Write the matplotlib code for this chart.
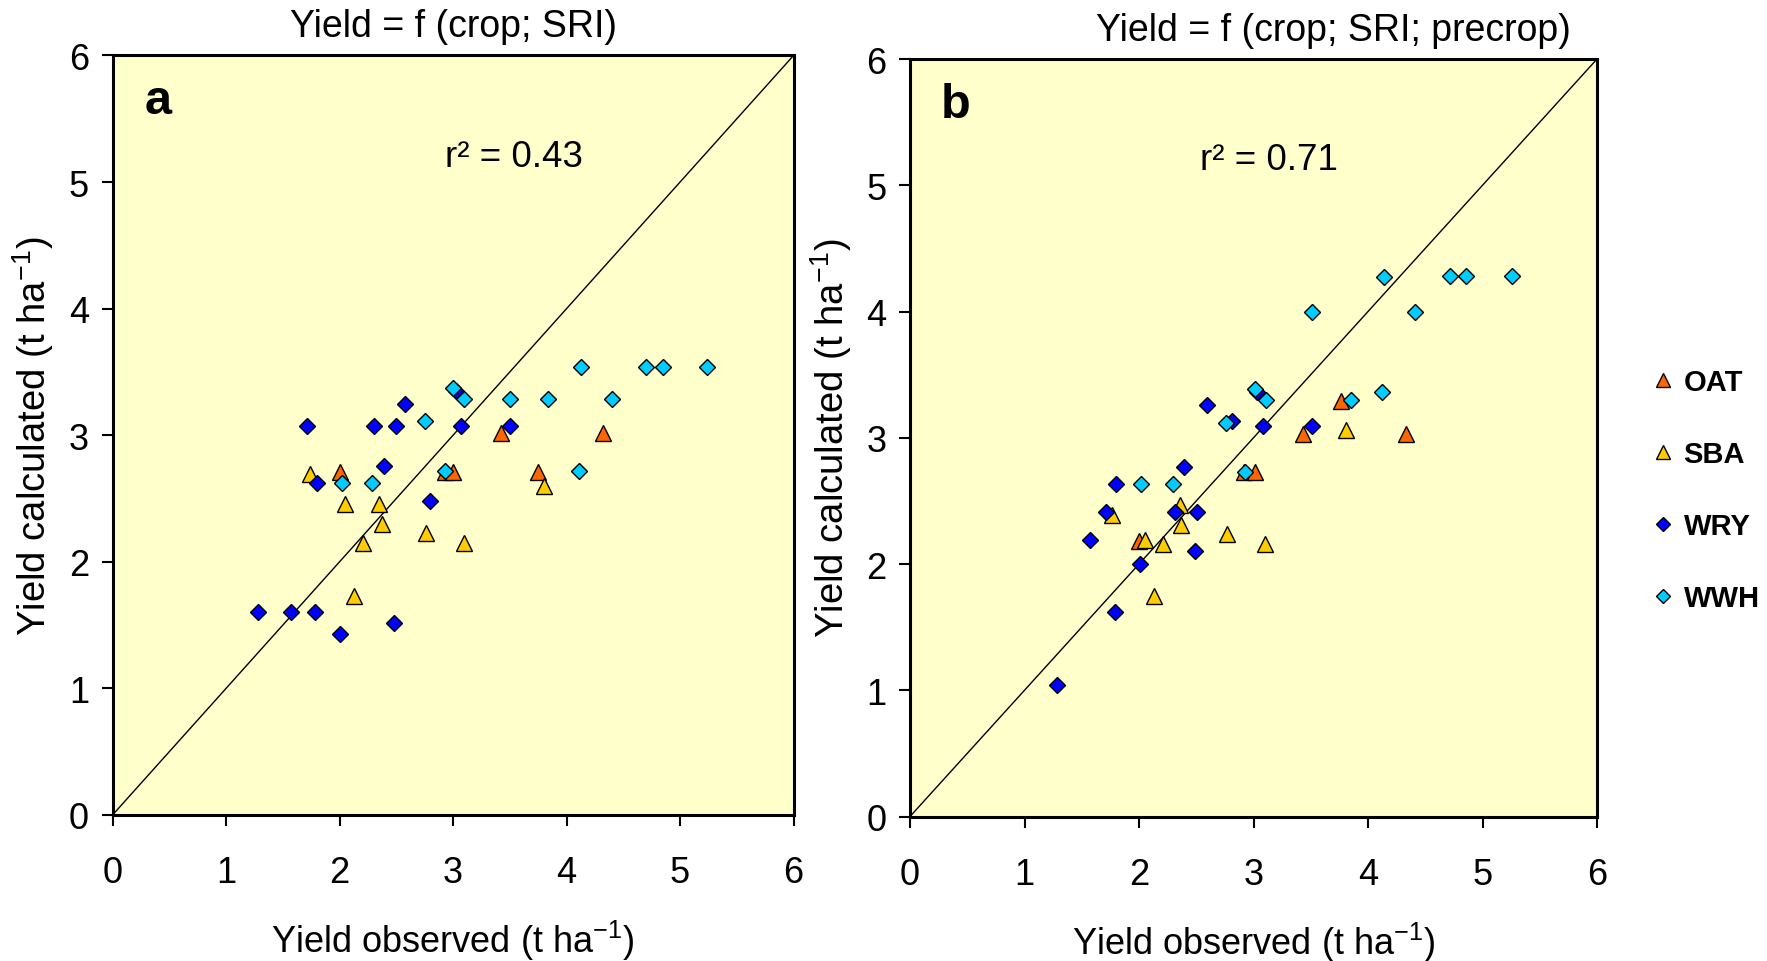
import matplotlib
matplotlib.use("Agg")
import matplotlib.pyplot as plt
from matplotlib.lines import Line2D

plt.rcParams['font.family'] = ['Liberation Sans', 'DejaVu Sans']
plt.rcParams['mathtext.fontset'] = 'custom'
plt.rcParams['mathtext.rm'] = 'Liberation Sans'
plt.rcParams['mathtext.it'] = 'Liberation Sans:italic'
plt.rcParams['mathtext.bf'] = 'Liberation Sans:bold'

# panel a: Yield = f(crop; SRI)
oat_a_obs = [2.00, 2.93, 3.00, 3.42, 3.75, 4.32]
oat_a_calc = [2.71, 2.71, 2.71, 3.02, 2.71, 3.02]
sba_a_obs = [1.74, 2.05, 2.13, 2.21, 2.35, 2.37, 2.76, 3.10, 3.80]
sba_a_calc = [2.69, 2.46, 1.73, 2.15, 2.46, 2.30, 2.23, 2.15, 2.60]
wry_a_obs = [1.28, 1.57, 1.78, 2.00, 2.48, 1.71, 1.80, 2.30, 2.50, 2.58, 2.39, 2.80, 3.07, 3.50, 3.03]
wry_a_calc = [1.60, 1.60, 1.60, 1.43, 1.52, 3.07, 2.62, 3.07, 3.07, 3.25, 2.76, 2.48, 3.07, 3.07, 3.35]
wwh_a_obs = [2.02, 2.29, 2.75, 2.93, 3.00, 3.10, 3.50, 3.84, 4.11, 4.13, 4.40, 4.70, 4.85, 5.24]
wwh_a_calc = [2.62, 2.62, 3.11, 2.72, 3.37, 3.29, 3.29, 3.29, 2.72, 3.54, 3.29, 3.54, 3.54, 3.54]

# panel b: Yield = f(crop; SRI; precrop)
oat_b_obs = [2.00, 2.92, 3.01, 3.43, 3.76, 4.33]
oat_b_calc = [2.18, 2.73, 2.73, 3.03, 3.29, 3.03]
sba_b_obs = [1.76, 2.05, 2.13, 2.21, 2.36, 2.37, 2.77, 3.10, 3.81]
sba_b_calc = [2.39, 2.19, 1.75, 2.16, 2.47, 2.31, 2.24, 2.16, 3.06]
wry_b_obs = [1.28, 1.57, 1.71, 1.79, 1.80, 2.01, 2.31, 2.39, 2.49, 2.51, 2.59, 2.81, 3.08, 3.51, 3.03]
wry_b_calc = [1.04, 2.19, 2.41, 1.62, 2.63, 2.00, 2.41, 2.77, 2.10, 2.41, 3.26, 3.13, 3.09, 3.09, 3.36]
wwh_b_obs = [2.02, 2.30, 2.76, 2.93, 3.01, 3.11, 3.51, 3.85, 4.12, 4.14, 4.41, 4.72, 4.86, 5.26]
wwh_b_calc = [2.63, 2.63, 3.12, 2.73, 3.39, 3.30, 4.00, 3.30, 3.36, 4.27, 4.00, 4.28, 4.28, 4.28]

crops = ["OAT", "SBA", "WRY", "WWH"]
colors = {"OAT": "#FF6600", "SBA": "#FFCC00", "WRY": "#0000FF", "WWH": "#00CCFF"}
markers = {"OAT": "^", "SBA": "^", "WRY": "D", "WWH": "D"}
sizes = {"^": 11.5, "D": 8.5}

panels = [
    ("a", "Yield = f (crop; SRI)", "r² = 0.43", 0.59, 0.5,
     {"OAT": (oat_a_obs, oat_a_calc), "SBA": (sba_a_obs, sba_a_calc),
      "WRY": (wry_a_obs, wry_a_calc), "WWH": (wwh_a_obs, wwh_a_calc)}),
    ("b", "Yield = f (crop; SRI; precrop)", "r² = 0.71", 0.523, 0.617,
     {"OAT": (oat_b_obs, oat_b_calc), "SBA": (sba_b_obs, sba_b_calc),
      "WRY": (wry_b_obs, wry_b_calc), "WWH": (wwh_b_obs, wwh_b_calc)}),
]
rects = [[0.0637, 0.1518, 0.3854, 0.7895], [0.5150, 0.1502, 0.3888, 0.7874]]

fig = plt.figure(figsize=(17.67, 9.62), dpi=100)

for rect, (letter, title, r2, r2x, titlex, data) in zip(rects, panels):
    ax = fig.add_axes(rect)
    ax.set_facecolor("#FFFFCC")
    ax.plot([0, 6], [0, 6], color="black", lw=1.0, zorder=1)
    for crop in crops:
        x, y = data[crop]
        m = markers[crop]
        ax.plot(x, y, linestyle="none", marker=m, markersize=sizes[m],
                markerfacecolor=colors[crop], markeredgecolor="black",
                markeredgewidth=1.0, zorder=3, clip_on=False)
    ax.set_xlim(0, 6)
    ax.set_ylim(0, 6)
    ax.set_xticks(range(7))
    ax.set_yticks(range(7))
    ax.tick_params(direction="out", length=8, width=1.5, labelsize=26)
    ax.tick_params(axis="x", pad=21)
    ax.tick_params(axis="y", pad=9)
    for s in ax.spines.values():
        s.set_linewidth(2.2)
    ax.set_xlabel("Yield observed (t ha$^{-1}$)", fontsize=26, labelpad=20)
    ax.set_ylabel("Yield calculated (t ha$^{-1}$)", fontsize=27.5, labelpad=9)
    ax.text(titlex, 1.025, title, transform=ax.transAxes, ha="center",
            va="baseline", fontsize=27)
    ax.text(0.067, 0.924, letter, transform=ax.transAxes, ha="center",
            va="baseline", fontsize=35, fontweight="bold")
    ax.text(r2x, 0.855, r2, transform=ax.transAxes, ha="center",
            va="baseline", fontsize=26.5)

handles = [Line2D([], [], linestyle="none", marker=markers[c],
                  markersize=sizes[markers[c]] * 0.85,
                  markerfacecolor=colors[c], markeredgecolor="black",
                  markeredgewidth=1.0) for c in crops]
leg = fig.legend(handles, crops, loc="center left",
                 bbox_to_anchor=(0.9363, 0.4895), frameon=False,
                 prop={"weight": "bold", "size": 21}, handlelength=0.6,
                 handletextpad=0.4, labelspacing=1.5, borderpad=0,
                 borderaxespad=0)

fig.savefig("out.png", dpi=100)
